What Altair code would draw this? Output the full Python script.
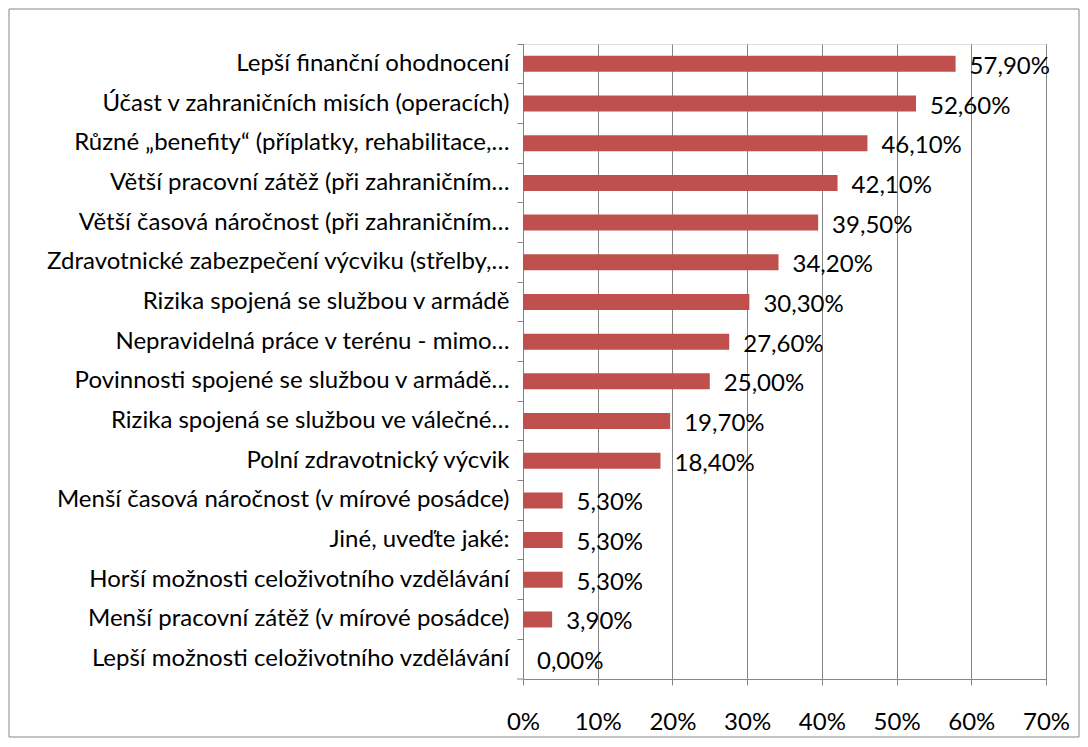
import altair as alt
import pandas as pd

categories = [
    "Lepší finanční ohodnocení",
    "Účast v zahraničních misích (operacích)",
    "Různé „benefity“ (příplatky, rehabilitace,…",
    "Větší pracovní zátěž (při zahraničním…",
    "Větší časová náročnost (při zahraničním…",
    "Zdravotnické zabezpečení výcviku (střelby,…",
    "Rizika spojená se službou v armádě",
    "Nepravidelná práce v terénu - mimo…",
    "Povinnosti spojené se službou v armádě…",
    "Rizika spojená se službou ve válečné…",
    "Polní zdravotnický výcvik",
    "Menší časová náročnost (v mírové posádce)",
    "Jiné, uveďte jaké:",
    "Horší možnosti celoživotního vzdělávání",
    "Menší pracovní zátěž (v mírové posádce)",
    "Lepší možnosti celoživotního vzdělávání",
]
values = [57.9, 52.6, 46.1, 42.1, 39.5, 34.2, 30.3, 27.6, 25.0, 19.7, 18.4, 5.3, 5.3, 5.3, 3.9, 0.0]
x_ticks = [0, 10, 20, 30, 40, 50, 60, 70]

df = pd.DataFrame({"cat": categories, "val": values})
df["lab"] = [f"{v:.2f}".replace(".", ",") + "%" for v in values]

FONT = "Lato, sans-serif"
FS = 24
GRAY = "#868686"
W, H = 523, 635

y_enc = alt.Y(
    "cat:N",
    sort=categories,
    scale=alt.Scale(paddingInner=0, paddingOuter=0),
    axis=alt.Axis(
        title=None, grid=False, bandPosition=0, tickSize=6, tickColor=GRAY,
        domainColor=GRAY, labelFontSize=FS, labelColor="black", labelPadding=8,
        labelLimit=0, labelFont=FONT,
    ),
)
x_enc = alt.X(
    "val:Q",
    scale=alt.Scale(domain=[0, 70], nice=False),
    axis=alt.Axis(
        title=None, values=x_ticks, labelExpr="datum.value + '%'", grid=True,
        gridColor=GRAY, domainColor=GRAY, tickColor=GRAY, tickSize=6,
        labelFontSize=FS, labelColor="black", labelPadding=25, labelFont=FONT,
        labelFlush=False,
    ),
)

bars = alt.Chart(df).mark_bar(color="#C0504D", size=16).encode(x=x_enc, y=y_enc)
texts = alt.Chart(df).mark_text(
    align="left", baseline="middle", dx=14, dy=3, fontSize=FS, font=FONT, color="black"
).encode(x="val:Q", y=alt.Y("cat:N", sort=categories), text="lab:N")

border = alt.Chart(pd.DataFrame({"a": [0]})).mark_rect(
    fill=None, stroke=GRAY, strokeWidth=1
).encode(
    x=alt.value(-514), x2=alt.value(556), y=alt.value(-35), y2=alt.value(693)
)

end_tick = alt.Chart(pd.DataFrame({"a": [0]})).mark_rule(
    color=GRAY, strokeWidth=1
).encode(x=alt.value(-6), x2=alt.value(0), y=alt.value(H))

chart = alt.layer(border, bars, texts, end_tick).properties(
    width=W, height=H, padding=0
).configure_view(stroke=None).configure(background="white")

chart.save("out.html", embed_options={"renderer": "svg", "actions": False})
